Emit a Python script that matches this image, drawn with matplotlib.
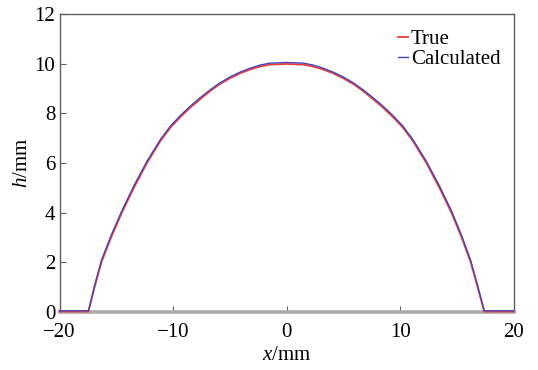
import matplotlib
matplotlib.use("Agg")
import matplotlib.pyplot as plt

x = [-20, -17.45, -16.9, -16.3, -15.45, -14.5, -13.45, -12.3, -11.1, -10.2, -9.35, -8.5, -7.6,
     -6.75, -5.9, -5.0, -4.1, -3.2, -2.3, -1.5, 0, 1.5, 2.3, 3.2, 4.1, 5.0, 5.9, 6.75, 7.6,
     8.5, 9.35, 10.2, 11.1, 12.3, 13.45, 14.5, 15.4, 16.2, 16.8, 17.4, 20]
h_true = [0, 0, 1, 2, 3, 4, 5, 6, 6.9, 7.45, 7.86, 8.23, 8.58,
          8.9, 9.18, 9.42, 9.62, 9.78, 9.9, 9.97, 10.0, 9.97, 9.9, 9.78, 9.62, 9.42, 9.18, 8.9, 8.58,
          8.23, 7.86, 7.45, 6.9, 6, 5, 4, 3, 2, 1, 0, 0]
h_calc = [0.03, 0.03, 1.08, 2.08, 3.08, 4.08, 5.08, 6.07, 6.96, 7.51, 7.92, 8.29, 8.64,
          8.95, 9.23, 9.47, 9.67, 9.83, 9.96, 10.03, 10.06, 10.03, 9.96, 9.83, 9.67, 9.47, 9.23, 8.95, 8.64,
          8.29, 7.92, 7.51, 6.96, 6.07, 5.08, 4.08, 3.08, 2.08, 1.08, 0.03, 0.03]

xticks = [-20, -10, 0, 10, 20]
yticks = [0, 2, 4, 6, 8, 10, 12]

plt.rcParams['font.family'] = ['Liberation Serif', 'DejaVu Serif']
plt.rcParams['mathtext.fontset'] = 'custom'
plt.rcParams['mathtext.it'] = 'Liberation Serif:italic'
plt.rcParams['mathtext.rm'] = 'Liberation Serif'

fig = plt.figure(figsize=(5.38, 3.70), dpi=100)
ax = fig.add_axes([0.1106, 0.158, 0.8444, 0.803])

ax.plot(x, h_true, color='#f03c3c', lw=1.3, label='True', clip_on=False, zorder=3)
ax.plot(x, h_calc, color='#4646b4', lw=1.0, label='Calculated', clip_on=False, zorder=4)

ax.set_xlim(-20, 20)
ax.set_ylim(0, 12)
ax.set_xticks(xticks)
ax.set_yticks(yticks)
ax.set_xticklabels(['\u2212' + str(-t) if t < 0 else str(t) for t in xticks])
ax.tick_params(direction='in', length=4, width=0.8, colors='#606060', labelcolor='black',
               labelsize=15, top=False, right=False)
ax.tick_params(axis='x', pad=8)
ax.tick_params(axis='y', pad=3)

for s in ['left', 'right', 'top']:
    ax.spines[s].set_color('#606060')
    ax.spines[s].set_linewidth(1.0)
ax.spines['bottom'].set_color('#aaaaaa')
ax.spines['bottom'].set_linewidth(2.6)

ax.set_xlabel('$x$/mm', fontsize=15, labelpad=3)
ax.set_ylabel('$h$/mm', fontsize=15, labelpad=2)

leg = ax.legend(loc='upper right', frameon=False, fontsize=15, handlelength=0.45,
                handletextpad=0.15, labelspacing=0.0, borderaxespad=0.2,
                bbox_to_anchor=(0.998, 0.99))

fig.savefig('out.png', dpi=100)
